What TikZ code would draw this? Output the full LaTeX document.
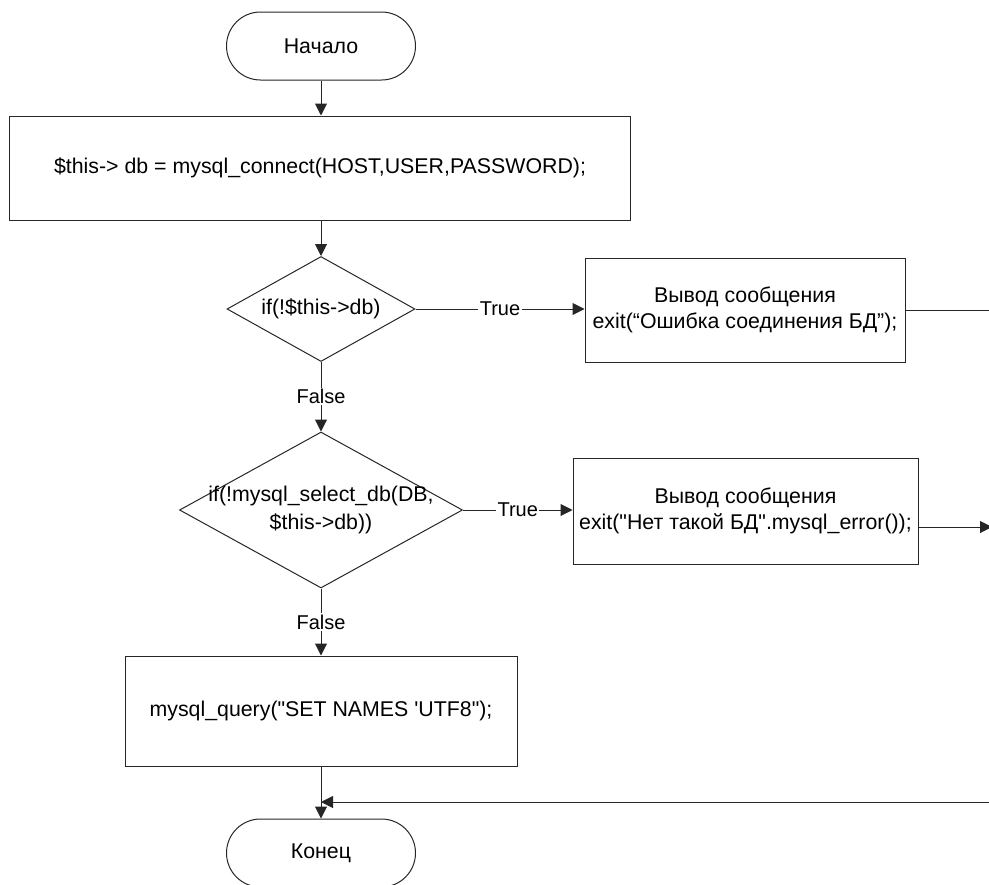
\documentclass[tikz,border=0pt]{standalone}
\usepackage{fontspec}
\setmainfont{Liberation Sans}[Ligatures=TeXOff]
\usetikzlibrary{shapes.geometric,arrows.meta}
\begin{document}
\begin{tikzpicture}[x=0.75pt,y=-0.75pt,
  every node/.style={font=\fontsize{16}{19}\selectfont, text=black},
  line/.style={draw=black!85, line width=0.75pt},
  arr/.style={line, -{Triangle[length=9pt,width=9pt]}},
  term/.style={line, rectangle, rounded corners=25.5pt, minimum width=141.75pt, minimum height=51pt},
  proc/.style={line, rectangle, align=center},
  cond/.style={line, diamond, inner sep=0pt},
  lbl/.style={fill=white, inner sep=1pt, font=\fontsize{15}{18}\selectfont}]
  \useasboundingbox (0,0) rectangle (989,885);
  \clip (0,0) rectangle (989,885);

  % main column
  \node[term] (start) at (321,46) {Начало};
  \node[proc, minimum width=465.75pt, minimum height=78pt] (connect) at (320,168)
    {\$this-> db = mysql\_connect(HOST,USER,PASSWORD);};
  \node[cond, minimum width=141pt, minimum height=78.75pt] (chk1) at (321,309) {};
  \node at (chk1.center) {if(!\$this->db)};
  \node[cond, minimum width=212.25pt, minimum height=117pt] (chk2) at (321,510) {};
  \node[align=center, font=\fontsize{16}{21}\selectfont] at (chk2.center)
    {if(!mysql\_select\_db(DB,\\\$this->db))};
  \node[proc, minimum width=294pt, minimum height=82.5pt] (names) at (321,711)
    {mysql\_query("SET NAMES 'UTF8");};
  \node[term] (stop) at (321,853) {Конец};

  % error branches
  \node[proc, minimum width=240pt, minimum height=78pt] (err1) at (745,310)
    {Вывод сообщения\\exit(“Ошибка соединения БД”);};
  \node[proc, minimum width=258.75pt, minimum height=79.5pt] (err2) at (745.5,511)
    {Вывод сообщения\\exit("Нет такой БД".mysql\_error());};

  % off-edge return points
  \coordinate (r1) at (995,310);
  \coordinate (r2) at (992,527);
  \coordinate (r3) at (995,802);

  % connectors
  \draw[arr] (start.south) -- (start.south |- connect.north);
  \draw[arr] (connect.south -| chk1.north) -- (chk1.north);
  \draw[arr] (chk1.east) -- node[lbl] {True} (chk1.east -| err1.west);
  \draw[arr] (chk1.south) -- node[lbl] {False} (chk2.north);
  \draw[arr] (chk2.east) -- node[lbl] {True} (chk2.east -| err2.west);
  \draw[arr] (chk2.south) -- node[lbl] {False} (chk2.south |- names.north);
  \draw[arr] (names.south -| stop.north) -- (stop.north);
  \draw[line] (err1.east |- r1) -- (r1);
  \draw[arr] (r2 -| err2.east) -- (r2);
  \draw[arr] (r3) -- (r3 -| stop.north);
\end{tikzpicture}
\end{document}
